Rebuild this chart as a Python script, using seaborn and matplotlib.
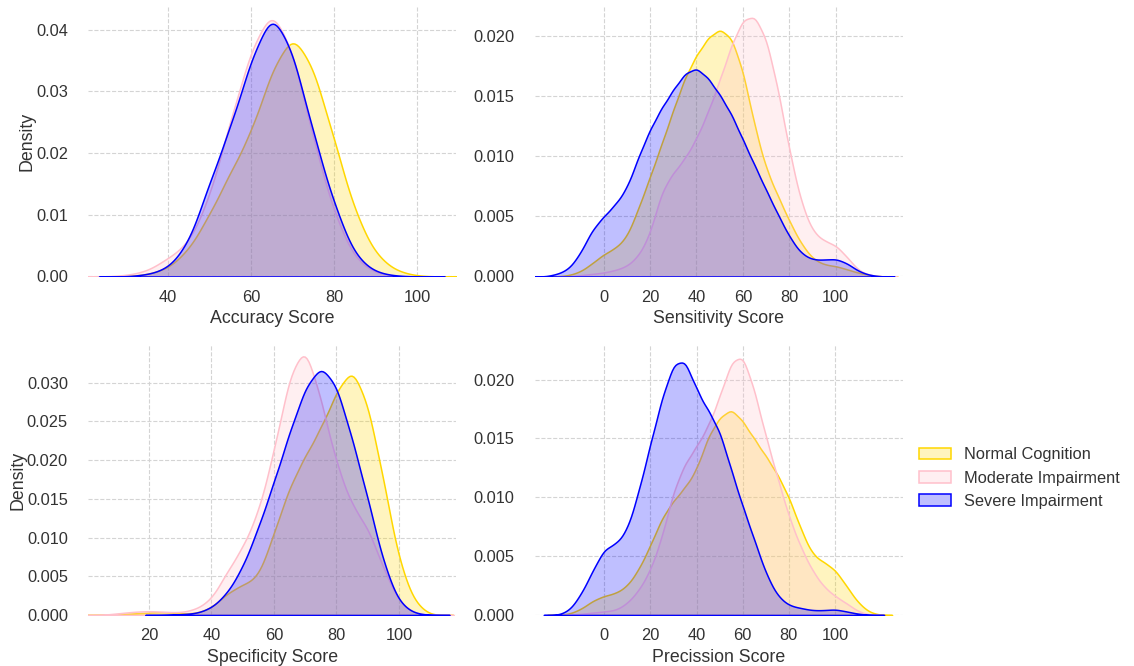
import numpy as np
import matplotlib
matplotlib.use("Agg")
import matplotlib.pyplot as plt
from matplotlib.patches import Patch
from matplotlib.colors import to_rgba
import seaborn as sns

# Cognitive groups and their colours
groups = ["Normal Cognition", "Moderate Impairment", "Severe Impairment"]
group_colors = ["gold", "pink", "blue"]

# Score distributions: relative frequency per score (x 1e-3) for each group
acc_scores = [30, 35, 40, 45, 50, 55, 60, 65, 70, 75, 80, 85, 90, 95, 100]
acc_normal = [0.05, 0.3, 1.2, 4.0, 9.5, 16, 22, 31.8, 37.8, 32.3, 21, 9.7, 3.2, 0.8, 0.1]
acc_moderate = [0.2, 0.8, 2.8, 5, 12, 24, 35, 41.8, 35, 21, 9.5, 2.5, 0.5, 0, 0]
acc_severe = [0, 0.3, 1.2, 5, 14.5, 23, 33.5, 41.5, 35, 22, 11, 3, 0.6, 0.1, 0]

sens_scores = [-20, -15, -10, -5, 0, 5, 10, 15, 20, 25, 30, 35, 40, 45, 50, 55,
               60, 65, 70, 75, 80, 85, 90, 95, 100, 105, 110, 115]
sens_normal = [0, 0.1, 0.4, 1.1, 1.9, 2.4, 3.3, 5.8, 8.5, 11.3, 14.2, 17.0, 18.9, 20.4,
               21.2, 20.5, 17.6, 12.8, 9.1, 6.9, 4.7, 2.8, 1.5, 1.0, 0.9, 0.6, 0.3, 0.1]
sens_moderate = [0, 0, 0.1, 0.2, 0.3, 0.5, 0.8, 1.6, 3.3, 6.8, 8.2, 9.3, 10.9, 13.0,
                 15.5, 18.3, 20.4, 20.7, 18.9, 14.9, 9.9, 5.8, 3.5, 2.8, 2.5, 1.5, 0.4, 0.1]
sens_severe = [0.2, 0.6, 1.9, 3.9, 5.0, 6.0, 7.3, 10.0, 12.3, 14.1, 15.6, 17.0, 17.5, 16.6,
               15.2, 13.6, 11.4, 9.3, 7.2, 5.2, 3.3, 1.9, 1.4, 1.4, 1.5, 1.1, 0.4, 0.1]

spec_scores = [5, 10, 15, 20, 25, 30, 35, 40, 45, 50, 55, 60, 65, 70, 75, 80, 85,
               90, 95, 100, 105, 110]
spec_normal = [0, 0.1, 0.2, 0.3, 0.4, 0.2, 0.2, 0.9, 2.8, 3.9, 4.7, 10.5, 16.5, 20.4,
               23.9, 28.6, 32.0, 27.2, 17.4, 6.7, 1.5, 0]
spec_moderate = [0, 0.2, 0.4, 0.5, 0.4, 0.3, 0.7, 1.9, 5.4, 8.4, 12.7, 20.4, 30.0, 34.0,
                 26.9, 18.7, 13.5, 11.0, 5.8, 1.5, 0.2, 0]
spec_severe = [0, 0, 0, 0, 0, 0.1, 0.2, 0.9, 2.8, 6.2, 11.4, 17.4, 23.9, 29.8, 32.8,
               30.2, 23.0, 15.3, 6.7, 1.5, 0.2, 0]

prec_scores = [-20, -15, -10, -5, 0, 5, 10, 15, 20, 25, 30, 35, 40, 45, 50, 55, 60,
               65, 70, 75, 80, 85, 90, 95, 100, 105, 110, 115, 120]
prec_normal = [0, 0.1, 0.5, 1.2, 1.6, 1.8, 2.4, 3.8, 5.8, 8.1, 9.5, 10.6, 12.0, 14.9,
               16.4, 17.2, 16.1, 14.6, 13.2, 11.7, 9.8, 7.2, 5.0, 4.4, 3.8, 2.4, 1.0, 0.2, 0]
prec_moderate = [0, 0, 0.1, 0.2, 0.3, 0.4, 1.0, 2.1, 3.8, 6.6, 10.6, 12.9, 14.3, 16.0,
                 18.5, 21.6, 22.2, 19.1, 15.1, 11.7, 8.3, 5.8, 3.8, 2.4, 1.6, 1.0, 0.3, 0, 0]
prec_severe = [0, 0.4, 1.8, 3.8, 5.7, 6.0, 7.2, 10.6, 14.6, 18.5, 21.5, 21.8, 19.1, 17.4,
               15.7, 12.3, 9.2, 6.4, 3.5, 1.6, 0.8, 0.6, 0.4, 0.4, 0.5, 0.3, 0.1, 0, 0]

panels = [
    ("Accuracy Score", acc_scores, [acc_normal, acc_moderate, acc_severe]),
    ("Sensitivity Score", sens_scores, [sens_normal, sens_moderate, sens_severe]),
    ("Specificity Score", spec_scores, [spec_normal, spec_moderate, spec_severe]),
    ("Precission Score", prec_scores, [prec_normal, prec_moderate, prec_severe]),
]
x_limits = [(20.8, 109.4), (-29.7, 128.9), (0.5, 118.4), (-30.3, 129.5)]
y_limits = [(0, 0.0437), (0, 0.0224), (0, 0.0348), (0, 0.0229)]
x_ticks = [[40, 60, 80, 100], [0, 20, 40, 60, 80, 100],
           [20, 40, 60, 80, 100], [0, 20, 40, 60, 80, 100]]

BANDWIDTH = 3.0  # kernel width in score units

sns.set_style("whitegrid", {"grid.linestyle": "--", "grid.color": ".83"})
plt.rcParams["font.family"] = ["Liberation Sans", "DejaVu Sans"]
plt.rcParams["text.color"] = ".2"
plt.rcParams["axes.labelcolor"] = ".2"
plt.rcParams["xtick.color"] = ".2"
plt.rcParams["ytick.color"] = ".2"


def draw_density(ax, scores, freq, color):
    s = np.asarray(scores, float)
    w = np.asarray(freq, float)
    keep = np.nonzero(w)[0]
    s, w = s[keep[0]:keep[-1] + 1], w[keep[0]:keep[-1] + 1]
    sd = np.sqrt(np.cov(s, aweights=w))
    sns.kdeplot(x=s, weights=w, bw_method=BANDWIDTH / sd, cut=2, fill=True,
                color=color, alpha=0.25, linewidth=1.1, ax=ax)


fig, axes = plt.subplots(2, 2, figsize=(11.34, 6.66), dpi=100)
fig.subplots_adjust(left=0.0776, right=0.7963, top=0.9895, bottom=0.0766,
                    wspace=0.2117, hspace=0.256)

for i, (ax, (label, scores, series)) in enumerate(zip(axes.flat, panels)):
    for freq, color in zip(series, group_colors):
        draw_density(ax, scores, freq, color)
    ax.set_xlim(*x_limits[i])
    ax.set_ylim(*y_limits[i])
    ax.set_xticks(x_ticks[i])
    ax.set_xlabel(label, fontsize=12.8, labelpad=4)
    ax.set_ylabel("Density" if i % 2 == 0 else "", fontsize=12.8, labelpad=0)
    ax.tick_params(axis="x", labelsize=11.8, length=0, pad=9.4)
    ax.tick_params(axis="y", labelsize=11.8, length=0, pad=14.4)
    for sp in ax.spines.values():
        sp.set_visible(False)

handles = [Patch(facecolor=to_rgba(c, 0.25), edgecolor=c, linewidth=1.1)
           for c in group_colors]
fig.legend(handles, groups, loc="center left", bbox_to_anchor=(0.797, 0.282),
           frameon=False, fontsize=11.8)

fig.savefig("out.png", dpi=100)
